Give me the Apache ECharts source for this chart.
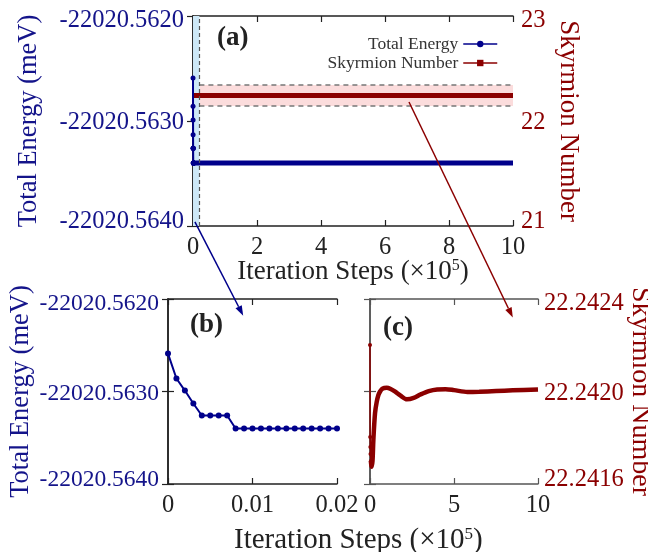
<!DOCTYPE html>
<html>
<head>
<meta charset="utf-8">
<script src="https://cdn.jsdelivr.net/npm/echarts@6/dist/echarts.min.js"></script>
<style>
  html, body { margin: 0; padding: 0; background: #fff; }
  #chart { width: 648px; height: 552px; }
</style>
</head>
<body>
<div id="chart"></div>
<script>
// total energy during the first 2000 steps (x in units of 1e5 steps)
const energySteps = [0, 0.001, 0.002, 0.003, 0.004, 0.005, 0.006, 0.007, 0.008, 0.009, 0.010,
  0.011, 0.012, 0.013, 0.014, 0.015, 0.016, 0.017, 0.018, 0.019, 0.020]
const energyValues = [-22020.56259, -22020.56286, -22020.56299, -22020.56313, -22020.56326,
  -22020.56326, -22020.56326, -22020.56326, -22020.56340, -22020.56340, -22020.56340,
  -22020.56340, -22020.56340, -22020.56340, -22020.56340, -22020.56340, -22020.56340,
  -22020.56340, -22020.56340, -22020.56340, -22020.56340]
// energy stays flat for the rest of the run
const energyLongSteps = [0.02, 10]
const energyLongValues = [-22020.56340, -22020.56340]

// skyrmion number over the whole run
const skySteps = [0, 0.01, 0.02, 0.03, 0.05, 0.08, 0.1, 0.15, 0.2, 0.3, 0.4, 0.5, 0.6, 0.7,
  0.85, 1.0, 1.2, 1.5, 1.8, 2.2, 2.6, 3.0, 3.5, 4.0, 4.5, 5.0, 5.8, 6.5, 7.5, 8.5, 10]
const skyValues = [22.242201, 22.241803, 22.241760, 22.241730, 22.241700, 22.241680,
  22.241675, 22.241700, 22.241790, 22.241907, 22.241955, 22.241985, 22.242000, 22.242010,
  22.242015, 22.242016, 22.242012, 22.241999, 22.241983, 22.241966, 22.241972, 22.241987,
  22.242002, 22.242009, 22.242010, 22.242006, 22.241998, 22.241999, 22.242002, 22.242005,
  22.242009]

// shaded ranges in panel (a)
const zoomBandX = [0, 0.2]
const skyBand = [22.142, 22.342]

const navy = '#00008b'
const navyText = '#14148a'
const darkRed = '#8b0000'
const serif = '"Liberation Serif", "DejaVu Serif", serif'

const zip = (xs, ys) => xs.map((x, i) => [x, ys[i]])

const chart = echarts.init(document.getElementById('chart'))

function frameAxis(extra) {
  return Object.assign({
    nameMoveOverlap: false,
    axisLine: { show: true, lineStyle: { color: '#222', width: 1.5 } },
    axisTick: { show: true, inside: true, length: 6, lineStyle: { color: '#222', width: 1.2 } },
    splitLine: { show: false },
    axisLabel: { show: false },
  }, extra)
}

// y labels: the end labels sit a little inside the frame, as in the figure
function yLabel(min, max, fmt) {
  return v => {
    const s = fmt(v)
    if (Math.abs(v - max) < 1e-9) return '{hi|' + s + '}'
    if (Math.abs(v - min) < 1e-9) return '{lo|' + s + '}'
    return '{mid|' + s + '}'
  }
}
const shiftRich = {
  hi: { padding: [9, 0, 0, 0] },
  lo: { padding: [0, 0, 8, 0] },
  mid: { padding: [4, 0, 0, 0] },
}

const tickFont = { fontFamily: serif, fontSize: 24.5 }
const grayLine = { show: true, lineStyle: { color: '#555', width: 1.5 } }
const grayTick = { show: true, inside: true, length: 6, lineStyle: { color: '#555', width: 1.2 } }
const e4 = v => v.toFixed(4)

const options = {
  backgroundColor: '#fff',
  animation: false,
  grid: [
    { left: 193, top: 16, width: 320, height: 210, outerBoundsMode: 'none' },
    { left: 168, top: 299, width: 169, height: 185, outerBoundsMode: 'none' },
    { left: 370, top: 299, width: 168, height: 185, outerBoundsMode: 'none' },
  ],
  legend: {
    data: ['Total Energy', 'Skyrmion Number'],
    orient: 'vertical',
    align: 'right',
    right: 145,
    top: 30,
    itemWidth: 34,
    itemHeight: 8,
    itemGap: 1,
    lineStyle: { width: 1.5 },
    textStyle: { fontFamily: serif, fontSize: 17.5, color: '#333' },
  },
  xAxis: [
    frameAxis({
      gridIndex: 0, type: 'value', position: 'bottom', min: 0, max: 10, interval: 2,
      axisLabel: Object.assign({ show: true, color: '#222', margin: 9 }, tickFont),
      name: '{t|Iteration Steps (×10}{s|5}{t|)}',
      nameLocation: 'middle',
      nameGap: 32,
      nameTextStyle: {
        color: '#222',
        rich: {
          t: { fontFamily: serif, fontSize: 27, color: '#222' },
          s: { fontFamily: serif, fontSize: 16, color: '#222', verticalAlign: 'top' },
        },
      },
    }),
    frameAxis({ gridIndex: 0, type: 'value', position: 'top', min: 0, max: 10, interval: 2 }),
    frameAxis({
      gridIndex: 1, type: 'value', position: 'bottom', min: 0, max: 0.02, interval: 0.01,
      axisLabel: Object.assign({
        show: true, color: '#222', margin: 9,
        formatter: v => (v === 0 ? '0' : v.toFixed(2)),
      }, tickFont),
    }),
    frameAxis({ gridIndex: 1, type: 'value', position: 'top', min: 0, max: 0.02, interval: 0.01 }),
    frameAxis({
      gridIndex: 2, type: 'value', position: 'bottom', min: 0, max: 10, interval: 5,
      axisLine: grayLine, axisTick: grayTick,
      axisLabel: Object.assign({ show: true, color: '#222', margin: 9 }, tickFont),
    }),
    frameAxis({
      gridIndex: 2, type: 'value', position: 'top', min: 0, max: 10, interval: 5,
      axisLine: grayLine, axisTick: grayTick,
    }),
  ],
  yAxis: [
    frameAxis({
      gridIndex: 0, type: 'value', position: 'left',
      min: -22020.564, max: -22020.562, interval: 0.001,
      axisLabel: Object.assign({
        show: true, color: navyText, margin: 9,
        formatter: yLabel(-22020.564, -22020.562, e4), rich: shiftRich,
      }, tickFont),
      name: 'Total Energy (meV)', nameLocation: 'middle', nameGap: 150,
      nameTextStyle: { fontFamily: serif, fontSize: 26.5, color: navyText },
    }),
    frameAxis({
      gridIndex: 0, type: 'value', position: 'right', min: 21, max: 23, interval: 1,
      axisLabel: Object.assign({
        show: true, color: darkRed, margin: 8,
        formatter: yLabel(21, 23, v => String(v)), rich: shiftRich,
      }, tickFont),
      name: 'Skyrmion Number', nameLocation: 'middle', nameGap: 42, nameRotate: -90,
      nameTextStyle: { fontFamily: serif, fontSize: 27, color: darkRed },
    }),
    frameAxis({
      gridIndex: 1, type: 'value', position: 'left',
      min: -22020.564, max: -22020.562, interval: 0.001,
      axisLabel: Object.assign({}, tickFont, {
        show: true, color: navyText, margin: 9, fontSize: 23.5,
        formatter: yLabel(-22020.564, -22020.562, e4), rich: shiftRich,
      }),
      name: 'Total Energy (meV)', nameLocation: 'middle', nameGap: 133,
      nameTextStyle: { fontFamily: serif, fontSize: 26.5, color: navyText },
    }),
    frameAxis({
      gridIndex: 1, type: 'value', position: 'right',
      min: -22020.564, max: -22020.562, interval: 0.001,
    }),
    frameAxis({
      gridIndex: 2, type: 'value', position: 'left',
      min: 22.2416, max: 22.2424, interval: 0.0004,
      axisLine: grayLine, axisTick: grayTick,
    }),
    frameAxis({
      gridIndex: 2, type: 'value', position: 'right',
      min: 22.2416, max: 22.2424, interval: 0.0004,
      axisLine: grayLine, axisTick: grayTick,
      axisLabel: Object.assign({
        show: true, color: darkRed, margin: 6,
        formatter: yLabel(22.2416, 22.2424, e4), rich: shiftRich,
      }, tickFont),
      name: 'Skyrmion Number', nameLocation: 'middle', nameGap: 88, nameRotate: -90,
      nameTextStyle: { fontFamily: serif, fontSize: 28, color: darkRed },
    }),
  ],
  series: [
    {
      name: 'Skyrmion Number',
      type: 'line',
      xAxisIndex: 0, yAxisIndex: 1,
      data: zip(skySteps, skyValues),
      symbol: 'rect', symbolSize: 7, showSymbol: false,
      color: darkRed,
      lineStyle: { width: 5, color: darkRed },
      z: 3,
      markArea: {
        silent: true,
        itemStyle: { color: '#fbdcdc' },
        data: [[{ xAxis: zoomBandX[1], yAxis: skyBand[0] }, { xAxis: 10, yAxis: skyBand[1] }]],
      },
      markLine: {
        silent: true, symbol: 'none', label: { show: false },
        lineStyle: { color: '#777', type: [5, 4], width: 1.5 },
        data: skyBand.map(v => [{ coord: [zoomBandX[1], v] }, { coord: [10, v] }]),
      },
    },
    {
      name: 'energyLong',
      type: 'line',
      xAxisIndex: 0, yAxisIndex: 0,
      data: zip(energyLongSteps, energyLongValues),
      showSymbol: false,
      lineStyle: { width: 5, color: navy },
      z: 4,
      markArea: {
        silent: true,
        itemStyle: { color: '#cde8f7' },
        data: [[{ xAxis: zoomBandX[0] }, { xAxis: zoomBandX[1] }]],
      },
      markLine: {
        silent: true, symbol: 'none', label: { show: false },
        lineStyle: { color: '#555', type: [4, 3], width: 1.2 },
        data: [{ xAxis: zoomBandX[1] }],
      },
    },
    {
      name: 'Total Energy',
      type: 'line',
      xAxisIndex: 0, yAxisIndex: 0,
      data: zip(energySteps, energyValues),
      symbol: 'circle', symbolSize: 5,
      color: navy,
      lineStyle: { width: 2, color: navy },
      z: 5,
    },
    {
      name: 'energyZoom',
      type: 'line',
      xAxisIndex: 2, yAxisIndex: 2,
      data: zip(energySteps, energyValues),
      symbol: 'circle', symbolSize: 6,
      color: navy,
      lineStyle: { width: 2, color: navy },
    },
    {
      name: 'skyHead',
      type: 'line',
      xAxisIndex: 4, yAxisIndex: 5,
      data: zip(skySteps, skyValues).slice(0, 5),
      symbol: 'circle', symbolSize: 4,
      color: darkRed,
      lineStyle: { width: 1.5, color: darkRed },
    },
    {
      name: 'skyZoom',
      type: 'line',
      xAxisIndex: 4, yAxisIndex: 5,
      data: zip(skySteps, skyValues).slice(4),
      showSymbol: false, smooth: 0.3,
      lineStyle: { width: 4.5, color: darkRed },
    },
  ],
}

chart.setOption(options)

// arrows linking panel (a) to the zoomed panels
function arrow(p0, p1, color) {
  const ang = Math.atan2(p1[1] - p0[1], p1[0] - p0[0])
  const len = 10, half = 3.5
  const bx = p1[0] - len * Math.cos(ang), by = p1[1] - len * Math.sin(ang)
  return [
    { type: 'line', shape: { x1: p0[0], y1: p0[1], x2: bx, y2: by }, style: { stroke: color, lineWidth: 1.5 }, z: 50 },
    {
      type: 'polygon', z: 50,
      shape: { points: [p1, [bx + half * Math.sin(ang), by - half * Math.cos(ang)], [bx - half * Math.sin(ang), by + half * Math.cos(ang)]] },
      style: { fill: color },
    },
  ]
}

const blueFrom = chart.convertToPixel({ xAxisIndex: 0, yAxisIndex: 0 }, [0.06, -22020.56396])
const blueTo = chart.convertToPixel({ xAxisIndex: 2, yAxisIndex: 2 }, [0.0089, -22020.56218])
const redFrom = chart.convertToPixel({ xAxisIndex: 0, yAxisIndex: 1 }, [6.75, 22.181])
const redTo = chart.convertToPixel({ xAxisIndex: 4, yAxisIndex: 5 }, [8.5, 22.24232])

const panelLabel = (text, x, y) => ({
  type: 'text', left: x, top: y, z: 60,
  style: { text: text, font: 'bold 27px ' + serif, fill: '#222' },
})

chart.setOption({
  graphic: [
    panelLabel('(a)', 217, 25),
    panelLabel('(b)', 190, 312),
    panelLabel('(c)', 383, 315),
    {
      type: 'text', left: 234, top: 526, z: 60,
      style: {
        text: '{t|Iteration Steps (×10}{s|5}{t|)}',
        rich: {
          t: { fontFamily: serif, fontSize: 29, fill: '#222' },
          s: { fontFamily: serif, fontSize: 17, fill: '#222', verticalAlign: 'top' },
        },
      },
    },
  ].concat(arrow(blueFrom, blueTo, navy), arrow(redFrom, redTo, darkRed)),
})
</script>
</body>
</html>
